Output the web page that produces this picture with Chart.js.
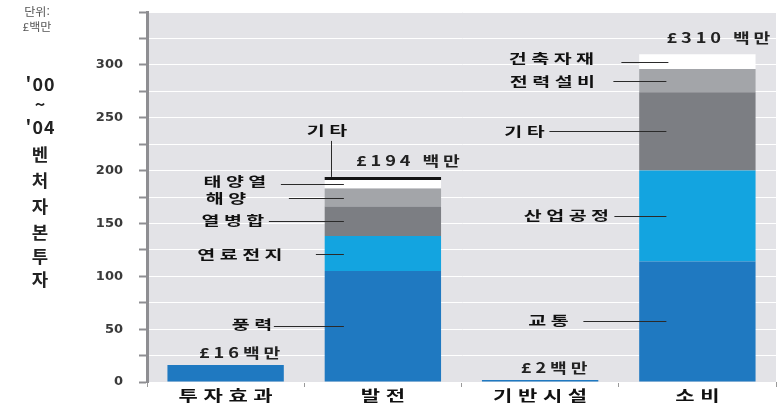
<!DOCTYPE html>
<html lang="ko">
<head>
<meta charset="utf-8">
<script src="https://cdn.jsdelivr.net/npm/chart.js@4.4.1/dist/chart.umd.min.js"></script>
<style>
  html, body { margin: 0; padding: 0; background: #fff; }
  #wrap { width: 777px; height: 406px; }
</style>
</head>
<body>
<div id="wrap"><canvas id="vcChart" width="777" height="406"></canvas></div>
<script>
const categories = ['투자효과', '발전', '기반시설', '소비'];

// stack levels, bottom to top (£ million)
const level1 = [16, 105, 2, 114];
const level2 = [0, 33, 0, 86];
const level3 = [0, 28, 0, 74];
const level4 = [0, 17, 0, 22];
const level5 = [0, 8, 0, 14];
const level6 = [0, 3, 0, 0];

const totalLabels = ['£16백만', '£194 백만', '£2백만', '£310 백만'];
const yTicks = [0, 50, 100, 150, 200, 250, 300];

const powerNames = ['풍력', '연료전지', '열병합', '해양', '태양열', '기타'];
const useNames = ['교통', '산업공정', '기타', '전력설비', '건축자재'];

const levelColors = ['#1f79c1', '#13a4e0', '#7c7e83', '#a3a5a9', '#ffffff', '#151515'];

// callout layout: [category, level, name, text centre dx, line start dx, line end dx, text dy]
const callouts = [
  [1, 0, powerNames[0], -131, -109, -39, -2],
  [1, 1, powerNames[1], -143, -67, -39, 0],
  [1, 2, powerNames[2], -150, -114, -39, -1],
  [1, 3, powerNames[3], -157, -94, -39, 0],
  [1, 4, powerNames[4], -148, -102, -39, -3],
  [3, 0, useNames[0], -149, -114, -31, -1],
  [3, 1, useNames[1], -131, -83, -31, -1],
  [3, 2, useNames[2], -173, -148, -31, 0],
  [3, 3, useNames[3], -145, -84, -31, 0],
  [3, 4, useNames[4], -146, -76, -29, -4]
];

const sideTitle = ["'00", '~', "'04", '벤', '처', '자', '본', '투', '자'];

const levels = [level1, level2, level3, level4, level5, level6];

// centred text, stretched sideways like the old print fonts
function drawWide(ctx, text, cx, cy, sx, spacing) {
  ctx.save();
  ctx.translate(cx, cy);
  ctx.scale(sx, 1);
  ctx.letterSpacing = spacing + 'px';
  const w = ctx.measureText(text).width - spacing;
  ctx.textAlign = 'left';
  ctx.fillText(text, -w / 2, 0);
  ctx.restore();
}

const decor = {
  id: 'decor',
  beforeDraw(chart) {
    const { ctx, chartArea: a } = chart;
    ctx.save();
    ctx.fillStyle = '#e3e3e7';
    ctx.fillRect(a.left, a.top, a.right - a.left, a.bottom - a.top);
    ctx.restore();
  },
  afterDraw(chart) {
    const ctx = chart.ctx;
    const xs = chart.scales.x;
    ctx.save();
    ctx.textBaseline = 'middle';

    // unit note and side title
    ctx.fillStyle = '#555';
    ctx.font = '11px "Noto Sans CJK KR"';
    drawWide(ctx, '단위:', 37, 12, 1.1, 0);
    drawWide(ctx, '£백만', 37, 27, 1.1, 0);
    ctx.fillStyle = '#222';
    ctx.font = 'bold 17px "Noto Sans CJK KR"';
    const sideY = [85, 105, 128, 155, 181, 207, 233, 257, 280];
    sideTitle.forEach((t, i) => drawWide(ctx, t, 40, sideY[i], 1.05, 1));

    // category labels
    ctx.fillStyle = '#111';
    ctx.font = 'bold 15px "Noto Sans CJK KR"';
    categories.forEach((c, i) => drawWide(ctx, c, xs.getPixelForTick(i), 395, 1.4, 4));

    // segment callouts
    ctx.font = 'bold 13px "Noto Sans CJK KR"';
    ctx.strokeStyle = '#2a2a2a';
    ctx.lineWidth = 1;
    callouts.forEach(([cat, lvl, name, tdx, l0, l1, tdy]) => {
      const el = chart.getDatasetMeta(lvl).data[cat];
      const cy = Math.round((el.y + el.base) / 2) + 0.5;
      ctx.beginPath();
      ctx.moveTo(el.x + l0, cy);
      ctx.lineTo(el.x + l1, cy);
      ctx.stroke();
      drawWide(ctx, name, el.x + tdx, cy + tdy, 1.5, 3);
    });

    // top "other" segment of the power bar, leader goes up
    const other = chart.getDatasetMeta(5).data[1];
    const lx = Math.round(other.x - 52) + 0.5;
    ctx.beginPath();
    ctx.moveTo(lx, other.y - 36);
    ctx.lineTo(lx, other.y);
    ctx.stroke();
    drawWide(ctx, powerNames[5], other.x - 56, other.y - 47, 1.5, 3);

    // totals above each bar
    ctx.fillStyle = '#222';
    ctx.font = 'bold 14px "Noto Sans CJK KR"';
    const tdx = [14, 25, 14, 21];
    const tdy = [-12, -16, -12, -17];
    totalLabels.forEach((t, i) => {
      let top = chart.getDatasetMeta(0).data[i].y;
      levels.forEach((vals, l) => {
        if (vals[i] > 0) top = Math.min(top, chart.getDatasetMeta(l).data[i].y);
      });
      drawWide(ctx, t, xs.getPixelForValue(i) + tdx[i], top + tdy[i], 1.3, 3);
    });
    ctx.restore();
  }
};

new Chart(document.getElementById('vcChart'), {
  type: 'bar',
  data: {
    labels: categories,
    datasets: levels.map((vals, i) => ({
      data: vals,
      backgroundColor: levelColors[i],
      borderWidth: 0,
      barPercentage: 0.74,
      categoryPercentage: 1
    }))
  },
  options: {
    responsive: false,
    animation: false,
    layout: { padding: { top: 12, right: 1, left: 0, bottom: 0 } },
    plugins: { legend: { display: false }, tooltip: { enabled: false } },
    scales: {
      x: {
        stacked: true,
        grid: {
          drawOnChartArea: false,
          tickLength: 5,
          color: '#9a9a9a'
        },
        border: { display: false },
        ticks: { display: false },
        afterFit: s => { s.height = 24; }
      },
      y: {
        stacked: true,
        min: 0,
        max: 350,
        afterFit: s => {
          s.width = 147;
          s.paddingTop = 0;
          s.paddingBottom = 0;
        },
        afterBuildTicks: s => {
          const t = [];
          for (let v = 0; v <= 350; v += 25) t.push({ value: v });
          s.ticks = t;
        },
        ticks: {
          padding: 16,
          color: '#3a3a3a',
          font: { family: 'DejaVu Sans', size: 13, weight: 'bold' },
          callback: v => (yTicks.includes(v) ? String(v) : '')
        },
        grid: {
          color: '#ffffff',
          lineWidth: 1,
          tickColor: '#8e8e92',
          tickLength: 8,
          tickWidth: 2
        },
        border: { color: '#8e8e92', width: 3 }
      }
    }
  },
  plugins: [decor]
});
</script>
</body>
</html>
